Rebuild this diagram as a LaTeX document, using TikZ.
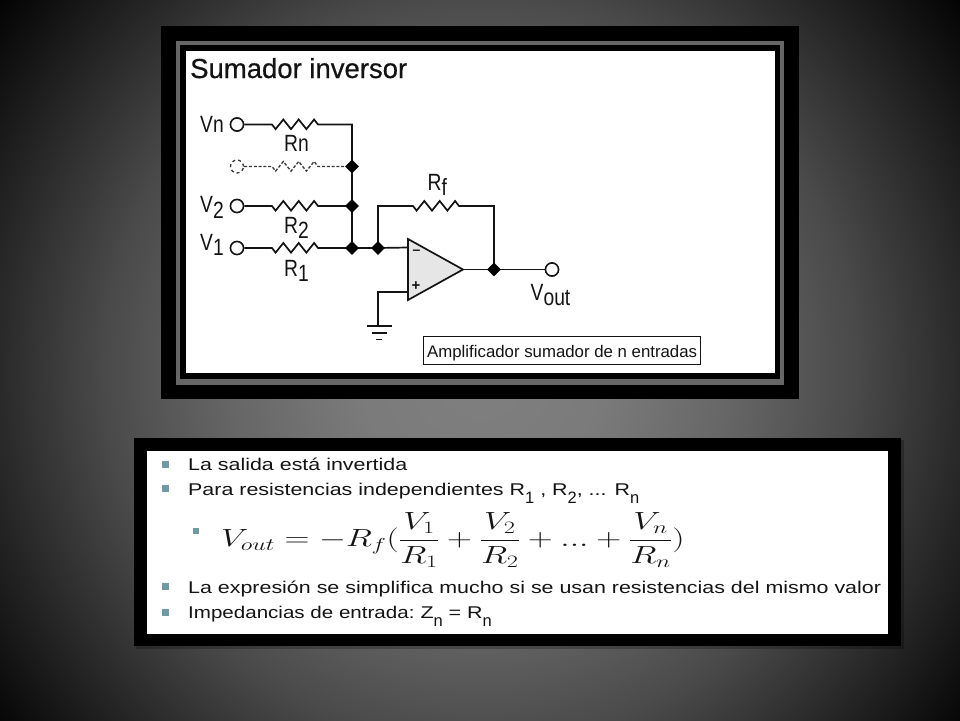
\documentclass[tikz,border=0pt]{standalone}
\usepackage{fix-cm}
\usepackage{amsmath}
\usepackage{graphicx}
\usepackage{fontspec}
\setmainfont{Liberation Sans}
\newfontfamily\circuitfont[FakeStretch=0.82]{Liberation Sans}
\newfontfamily\bodyfont[FakeStretch=1.26]{Liberation Sans}
\newfontfamily\titlefont[FakeBold=0.5]{Liberation Sans}
\newfontfamily\subfont{Liberation Sans}
\usetikzlibrary{calc,shapes.geometric}
\pgfdeclareradialshading{bgshade}{\pgfpoint{0bp}{0bp}}{
  color(0bp)=(black!50!white);
  color(5bp)=(black!52!white);
  color(10bp)=(black!60!white);
  color(15bp)=(black!71!white);
  color(20bp)=(black!86!white);
  color(24bp)=(black!98!white);
  color(25bp)=(black)}
\definecolor{ink}{HTML}{141414}
\definecolor{bulletc}{HTML}{6F9AA6}
\definecolor{framegray}{HTML}{666666}
\definecolor{ampfill}{HTML}{E6E6E6}
\tikzset{
  wire/.style={line width=1.7pt,draw=ink,line join=miter},
  dashwire/.style={line width=1.3pt,draw=ink!85,dash pattern=on 3pt off 1.8pt},
  terminal/.style={circle,draw=ink,fill=white,line width=1.5pt,minimum size=13pt,inner sep=0pt},
  faintterminal/.style={circle,draw=ink!85,fill=white,line width=1.3pt,dash pattern=on 3pt off 3pt,minimum size=13pt,inner sep=0pt},
  junction/.style={diamond,fill=black,minimum size=14pt,inner sep=0pt},
  clabel/.style={font=\circuitfont\fontsize{23.5}{26}\selectfont,text=ink,inner sep=0pt,anchor=base west},
  bodytext/.style={font=\bodyfont\fontsize{17}{20}\selectfont,text=ink,anchor=base west,inner sep=0pt},
  bulletmark/.style={fill=bulletc,minimum size=7pt,inner sep=0pt},
}
\newcommand{\zig}{-- ++(3.6,4.6) -- ++(7.7,-9.6) -- ++(7.7,9.6) -- ++(7.7,-9.6) -- ++(7.7,9.6) -- ++(7.7,-9.6) -- ++(3.9,5)}
\newcommand{\lowered}[2]{\raisebox{-#1pt}{#2}}
\newcommand{\smallsub}[2]{\raisebox{-#1pt}{\subfont\fontsize{16.5}{16.5}\selectfont #2}}
\begin{document}
\begin{tikzpicture}[x=1pt,y=-1pt]
\useasboundingbox (0,0) rectangle (960,720);
\begin{scope}
\clip (0,0) rectangle (960,720);
\shade[shading=bgshade] (480,370) circle (625);
\end{scope}
% frame 1
\fill[black] (161,26) rectangle (799,399);
\fill[framegray] (176,41) rectangle (784,385);
\fill[black] (180,45) rectangle (780,379);
\fill[white] (186,51) rectangle (775,373);
\node[anchor=base west,inner sep=0pt,text=ink,font=\titlefont\fontsize{27.5}{30}\selectfont] (title) at (190,78) {Sumador inversor};
% circuit nodes
\node[terminal] (tn) at (237,124.5) {};
\node[faintterminal] (td) at (237,166.5) {};
\node[terminal] (t2) at (237,206) {};
\node[terminal] (t1) at (237,248) {};
\node[terminal] (tout) at (552,269.5) {};
\coordinate (jd) at (352,166.5);
\coordinate (j2) at (352,206);
\coordinate (j1) at (352,248);
\coordinate (jm) at (378,248);
\coordinate (jo) at (494,269.5);
\coordinate (cn) at (352,124.5);
\coordinate (ft) at (378,206);
\coordinate (fb) at (494,206);
\coordinate (gnd) at (378,326);
\coordinate (pin) at (378,292);
\coordinate (ampm) at (408,247.5);
\coordinate (ampp) at (408,292);
\coordinate (amptip) at (463,269.5);
\coordinate (rnA) at (272,124.5);
\coordinate (r2A) at (272,206);
\coordinate (r1A) at (272,248);
\coordinate (rfA) at (413,206);
\coordinate (rdA) at (272,166.5);
% wires
\draw[wire] (tn) -- (rnA) \zig -- (cn) -- (j1);
\draw[wire] (t2) -- (r2A) \zig -- (j2);
\draw[wire] (t1) -- (r1A) \zig -- (j1);
\draw[wire] (j1) -- (jm) -- (ampm);
\draw[wire] (jm) -- (ft) -- (rfA) \zig -- (fb) -- (jo);
\draw[wire] (amptip) -- (jo) -- (tout);
\draw[wire] (ampp) -- (pin) -- (gnd);
\draw[dashwire] (td) -- (rdA) \zig -- (jd);
\node[junction] (njd) at (jd) {};
\node[junction] (nj2) at (j2) {};
\node[junction] (nj1) at (j1) {};
\node[junction] (njm) at (jm) {};
\node[junction] (njo) at (jo) {};
\node[terminal] at (tn) {};
\node[terminal] at (t2) {};
\node[terminal] at (t1) {};
\node[terminal] at (tout) {};
% op amp
\draw[wire,fill=ampfill,line join=miter] (408,239) -- (463,269.5) -- (408,300) -- cycle;
\node[inner sep=0pt,text=ink,font=\fontsize{14}{14}\bfseries\selectfont] (minus) at (416.5,252.5) {–};
\node[inner sep=0pt,text=ink,font=\fontsize{15}{15}\bfseries\selectfont] (plus) at (416,286.5) {+};
% ground
\draw[wire] (367,326) -- (392,326);
\draw[wire] (372,333) -- (387,333);
\draw[wire] (376,339.5) -- (382,339.5);
% labels
\node[clabel] (lvn) at (200,132) {Vn};
\node[clabel] (lrn) at (284,151) {Rn};
\node[clabel] (lv2) at (200,212) {V\lowered{6}{2}};
\node[clabel] (lv1) at (200,250) {V\lowered{5}{1}};
\node[clabel] (lr2) at (284,233) {R\lowered{5}{2}};
\node[clabel] (lr1) at (284,276) {R\lowered{5}{1}};
\node[clabel] (lrf) at (427.5,190) {R\lowered{5}{f}};
\node[clabel] (lvout) at (530.5,300) {V\lowered{5}{out}};
\node[draw=ink,line width=1.3pt,fill=white,anchor=north west,minimum width=277pt,minimum height=28pt,inner sep=0pt] (tip) at (423,336) {};
\node[anchor=base west,inner sep=0pt,text=ink,font=\fontsize{16.8}{20}\selectfont] (tiptext) at (427,357) {Amplificador sumador de n entradas};
% frame 2
\fill[black,opacity=.25] (136,440) rectangle (904,649);
\fill[black] (134,438) rectangle (901,646);
\fill[white] (147,451) rectangle (888,634);
\node[bulletmark] (b1) at (165,464) {};
\node[bulletmark] (b2) at (165,488.5) {};
\node[bulletmark,minimum size=6pt] (b3) at (196,531) {};
\node[bulletmark] (b4) at (165,586.5) {};
\node[bulletmark] (b5) at (165,612.5) {};
\node[bodytext] (s1) at (188,470) {La salida está invertida};
\node[bodytext] (s2) at (188,495) {Para resistencias independientes R\smallsub{8}{1} , R\smallsub{8}{2}, ... R\smallsub{8}{n}};
\node[anchor=west,inner sep=0pt,text=ink,font=\fontsize{27}{30}\selectfont] (eq) at (221,540) {\scalebox{1.28}[0.92]{$\displaystyle V_{out}=-R_f(\frac{V_1}{R_1}+\frac{V_2}{R_2}+...+\frac{V_n}{R_n})$}};
\node[bodytext] (s3) at (188,593) {La expresión se simplifica mucho si se usan resistencias del mismo valor};
\node[bodytext] (s4) at (188,618) {\scalebox{0.96}[1]{Impedancias de entrada:} Z\smallsub{8}{n} = R\smallsub{8}{n}};
\end{tikzpicture}
\end{document}
